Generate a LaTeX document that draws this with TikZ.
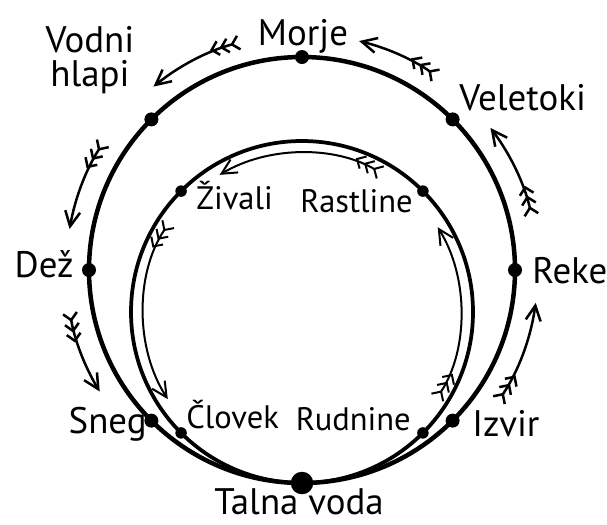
\documentclass[tikz,border=0pt]{standalone}
\usepackage{fontspec}
\setmainfont{PT Sans}
\usepackage{tikz}
\usetikzlibrary{arrows.meta,positioning,calc}

\begin{document}
\begin{tikzpicture}[
    x=0.2mm, y=0.2mm,
    ring/.style={line width=0.9mm},
    inring/.style={line width=0.75mm},
    stage/.style={circle,fill=black,inner sep=0pt,minimum size=2.8mm},
    instage/.style={circle,fill=black,inner sep=0pt,minimum size=2.3mm},
    lbl/.style={font=\fontsize{21}{19}\selectfont,inner sep=0pt},
    inlbl/.style={font=\fontsize{18.5}{19}\selectfont,inner sep=0pt},
    fletch/.style={line width=0.5mm,looseness=0.88,
        arrows={Straight Barb[reversed,length=1.4mm,width=2.8mm,sep=0.2mm]
                Straight Barb[reversed,length=1.4mm,width=2.8mm,sep=0.2mm]
                Straight Barb[reversed,length=1.4mm,width=2.8mm]
                -Straight Barb[length=3mm,width=3mm]}},
    thinfletch/.style={fletch,line width=0.4mm}
]
\useasboundingbox (0,0) rectangle (607,-524);
\coordinate (oc) at (302,-270);
\coordinate (ic) at (302,-312);

% Outer cycle
\draw[ring] (oc) circle[radius=213];
\node[stage] (morje) at ($(oc)+(90:213)$) {};
\node[stage] (vodni) at ($(oc)+(135:213)$) {};
\node[stage] (dez) at ($(oc)+(180:213)$) {};
\node[stage] (sneg) at ($(oc)+(225:213)$) {};
\node[stage,minimum size=4.5mm] (talna) at ($(oc)+(270:213)$) {};
\node[stage] (izvir) at ($(oc)+(315:213)$) {};
\node[stage] (reke) at ($(oc)+(0:213)$) {};
\node[stage] (veletoki) at ($(oc)+(45:213)$) {};

% Inner cycle
\draw[inring] (ic) circle[radius=171];
\node[instage] (rastline) at ($(ic)+(45:171)$) {};
\node[instage] (zivali) at ($(ic)+(135:171)$) {};
\node[instage] (clovek) at ($(ic)+(225:171)$) {};
\node[instage] (rudnine) at ($(ic)+(315:171)$) {};

% Labels
\node[lbl,anchor=base] (tmorje) at (303,-45) {Morje};
\node[lbl,anchor=base,align=center] (tvodni) at (90,-86) {Vodni\\hlapi};
\node[lbl,anchor=base east] (tdez) at (74,-277) {Dež};
\node[lbl,anchor=base east] (tsneg) at (147,-433) {Sneg};
\node[lbl,anchor=base] (ttalna) at (299,-514) {Talna voda};
\node[lbl,anchor=base west] (tizvir) at (472,-436) {Izvir};
\node[lbl,anchor=base west] (treke) at (532,-283) {Reke};
\node[lbl,anchor=base west] (tveletoki) at (459,-110) {Veletoki};
\node[inlbl,anchor=base west] (tzivali) at (196,-209) {Živali};
\node[inlbl,anchor=base east] (trastline) at (413,-212) {Rastline};
\node[inlbl,anchor=base west] (tclovek) at (186,-428) {Človek};
\node[inlbl,anchor=base east] (trudnine) at (411,-430) {Rudnine};

% Arrow ends, outer
\coordinate (a1) at ($(oc)+(105:236)$);
\coordinate (a2) at ($(oc)+(129:236)$);
\coordinate (b1) at ($(oc)+(147:236)$);
\coordinate (b2) at ($(oc)+(170:236)$);
\coordinate (c1) at ($(oc)+(190:236)$);
\coordinate (c2) at ($(oc)+(211:236)$);
\coordinate (d1) at ($(oc)+(326:236)$);
\coordinate (d2) at ($(oc)+(352:236)$);
\coordinate (e1) at ($(oc)+(13:236)$);
\coordinate (e2) at ($(oc)+(37:236)$);
\coordinate (f1) at ($(oc)+(55:236)$);
\coordinate (f2) at ($(oc)+(76:236)$);
% Arrow ends, inner
\coordinate (g1) at ($(ic)+(-33:160)$);
\coordinate (g2) at ($(ic)+(32:160)$);
\coordinate (h1) at ($(ic)+(60:160)$);
\coordinate (h2) at ($(ic)+(121:160)$);
\coordinate (k1) at ($(ic)+(146:160)$);
\coordinate (k2) at ($(ic)+(213:160)$);

\draw[fletch] (a1) to[bend right=12] (a2);
\draw[fletch] (b1) to[bend right=11.5] (b2);
\draw[fletch] (c1) to[bend right=10.5] (c2);
\draw[fletch] (d1) to[bend right=13] (d2);
\draw[fletch] (e1) to[bend right=12] (e2);
\draw[fletch] (f1) to[bend right=10.5] (f2);
\draw[thinfletch] (g1) to[bend right=32.5] (g2);
\draw[thinfletch] (h1) to[bend right=30.5] (h2);
\draw[thinfletch] (k1) to[bend right=33.5] (k2);
\end{tikzpicture}
\end{document}
